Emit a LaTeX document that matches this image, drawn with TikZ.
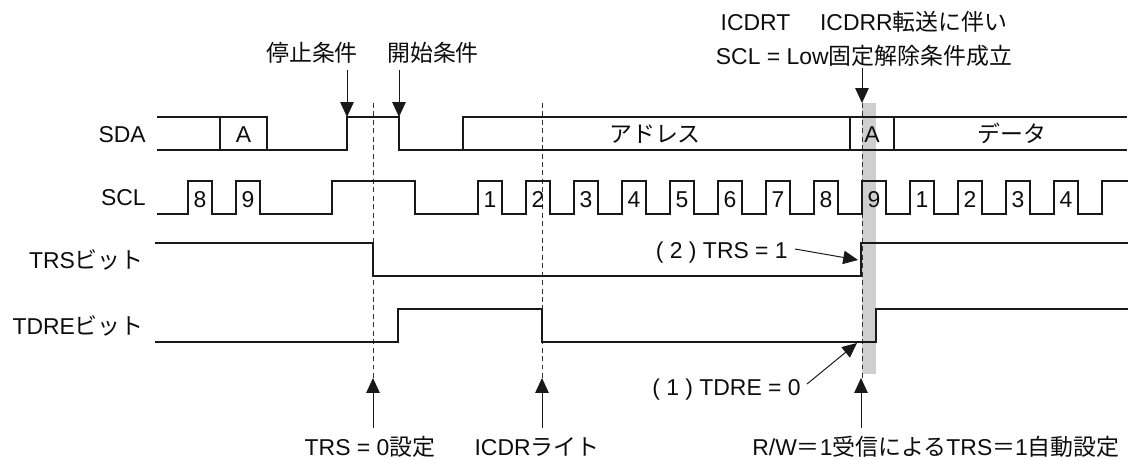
\documentclass[tikz,border=0pt]{standalone}
\usepackage{fontspec}
\setmainfont{Liberation Sans}
\newfontfamily\jpfont{Noto Sans CJK JP}
\usetikzlibrary{arrows.meta}

\begin{document}
\begin{tikzpicture}[x=0.025cm,y=-0.025cm,
  >={Triangle[length=10.5pt,width=9.5pt]},
  every node/.style={font=\fontsize{16.3}{19}\selectfont,inner sep=0pt,
    text height=12pt,text depth=0pt,text=black!95},
  sig/.style={line width=1pt,black!90,line join=miter},
  thin arrow/.style={line width=0.7pt,black!90},
  guide/.style={line width=0.6pt,black!80,dash pattern=on 3.5pt off 2.5pt}]

  \useasboundingbox (0,0) rectangle (1132,459);

  % band at the 9th clock
  \fill[black!19] (862,103) rectangle (876,374);

  % dashed guides
  \foreach \x in {373,542,862}
    \draw[guide] (\x,103) -- (\x,378);

  % Signal names
  \node[anchor=east] (lSDA)  at (146,134) {SDA};
  \node[anchor=east] (lSCL)  at (146,197) {SCL};
  \node[anchor=east] (lTRS)  at (144,260) {TRS{\jpfont ビット}};
  \node[anchor=east] (lTDRE) at (144,326) {TDRE{\jpfont ビット}};

  % SDA
  \draw[sig] (157,117) -- (267,117) -- (267,150);
  \draw[sig] (220,117) -- (220,150);
  \draw[sig] (157,150) -- (347,150) -- (347,117) -- (399,117) -- (399,150) -- (1127,150);
  \draw[sig] (463,150) -- (463,117) -- (1127,117);
  \draw[sig] (850,117) -- (850,150) (894,117) -- (894,150);
  \node (ackA)  at (243.5,134) {A};
  \node (addr)  at (655,134)   {\jpfont アドレス};
  \node (ackB)  at (872,134)   {A};
  \node (data)  at (1012,134)  {\jpfont データ};

  % SCL
  \draw[sig] (157,214) -- (188,214) -- (188,181) -- (212,181) -- (212,214)
    -- (236,214) -- (236,181) -- (260,181) -- (260,214) -- (332,214)
    -- (332,181) -- (415,181) -- (415,214)
    \foreach \x in {478,526,...,1054} { -- (\x,214) -- (\x,181) -- (\x+24,181) -- (\x+24,214) }
    -- (1102,214) -- (1102,181) -- (1128,181);
  \foreach \x/\d [count=\i] in {188/8,236/9,478/1,526/2,574/3,622/4,670/5,718/6,
      766/7,814/8,862/9,910/1,958/2,1006/3,1054/4}
    \node (clk\i) at (\x+12,199) {\d};

  % TRS and TDRE
  \draw[sig] (155,243) -- (373,243) -- (373,276) -- (861,276) -- (861,243) -- (1128,243);
  \draw[sig] (155,342) -- (398,342) -- (398,309) -- (542,309) -- (542,342)
    -- (876,342) -- (876,309) -- (1128,309);

  % Conditions on top
  \node (stop)  at (312,53) {\jpfont 停止条件};
  \node (start) at (433,53) {\jpfont 開始条件};
  \node (icdrt) at (864,22) {ICDRT\hspace{1.3em}ICDRR{\jpfont 転送に伴い}};
  \node (sclfree) at (864,56) {SCL = Low{\jpfont 固定解除条件成立}};
  \coordinate (stopT)  at (347,70);  \coordinate (stopB)  at (347,117);
  \coordinate (startT) at (399,70);  \coordinate (startB) at (399,117);
  \coordinate (freeT)  at (862,68);  \coordinate (freeB)  at (862,103);
  \draw[thin arrow,->] (stopT)  -- (stopB);
  \draw[thin arrow,->] (startT) -- (startB);
  \draw[thin arrow,->] (freeT)  -- (freeB);

  % (1) and (2)
  \node[anchor=east] (trsOne)  at (788,250) {( 2 ) TRS = 1};
  \node[anchor=east] (tdreZero) at (801,387) {( 1 ) TDRE = 0};
  \coordinate (trsOneT)  at (795,249); \coordinate (trsOneH)  at (858,260);
  \coordinate (tdreZeroT) at (807,384); \coordinate (tdreZeroH) at (857,343);
  \draw[thin arrow,->] (trsOneT)  -- (trsOneH);
  \draw[thin arrow,->] (tdreZeroT) -- (tdreZeroH);

  % Settings at the bottom
  \node (trsZero) at (370,447) {TRS = 0{\jpfont 設定}};
  \node (icdrw)   at (537,447) {ICDR{\jpfont ライト}};
  \node (rwAuto)  at (936,447) {R/W{\jpfont ＝}1{\jpfont 受信による}TRS{\jpfont ＝}1{\jpfont 自動設定}};
  \foreach \x/\n in {373/a,542/b,861/c} {
    \coordinate (up\n T) at (\x,428);
    \coordinate (up\n H) at (\x,378);
    \draw[thin arrow,->] (up\n T) -- (up\n H);
  }

\end{tikzpicture}
\end{document}
